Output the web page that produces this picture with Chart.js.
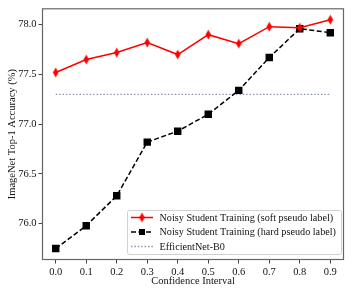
<!DOCTYPE html>
<html>
<head>
<meta charset="utf-8">
<script src="https://cdn.jsdelivr.net/npm/chart.js@4/dist/chart.umd.min.js"></script>
<style>
html,body{margin:0;padding:0;background:#fff;}
#wrap{width:353px;height:294px;}
</style>
</head>
<body>
<div id="wrap"><canvas id="c" width="353" height="294"></canvas></div>
<script>
const confidence = [0.0, 0.1, 0.2, 0.3, 0.4, 0.5, 0.6, 0.7, 0.8, 0.9];
const softLabel = [77.52, 77.65, 77.72, 77.82, 77.70, 77.90, 77.81, 77.98, 77.97, 78.05];
const hardLabel = [75.75, 75.98, 76.28, 76.82, 76.93, 77.10, 77.34, 77.67, 77.96, 77.92];
const baselineValue = 77.30;
const xTicks = [0.0, 0.1, 0.2, 0.3, 0.4, 0.5, 0.6, 0.7, 0.8, 0.9];
const yTicks = [76.0, 76.5, 77.0, 77.5, 78.0];
const seriesNames = ['Noisy Student Training (soft pseudo label)', 'Noisy Student Training (hard pseudo label)', 'EfficientNet-B0'];

const FONT = '"Liberation Serif", "DejaVu Serif", serif';

function thinDiamond(){
  const c = document.createElement('canvas');
  c.width = 7; c.height = 11;
  const g = c.getContext('2d');
  g.fillStyle = '#ff0000';
  g.beginPath();
  g.moveTo(3.5, 0.5); g.lineTo(6.3, 5.5); g.lineTo(3.5, 10.5); g.lineTo(0.7, 5.5); g.closePath();
  g.fill();
  return c;
}
const diamondImg = thinDiamond();

const xMin = -0.045, xMax = 0.945;
const yMin = 75.635, yMax = 78.165;

const framePlugin = {
  id: 'frame',
  afterDraw(chart){
    const {ctx, chartArea:a} = chart;
    ctx.save();
    ctx.strokeStyle = '#666';
    ctx.lineWidth = 1.2;
    ctx.strokeRect(a.left + 0.5, a.top + 0.5, a.right - a.left - 1, a.bottom - a.top - 1);
    ctx.restore();
  }
};

const legendPlugin = {
  id: 'customLegend',
  afterDraw(chart){
    const {ctx, chartArea:a} = chart;
    const boxL = 127, boxT = 210, boxR = a.right - 3, boxB = 254;
    ctx.save();
    ctx.fillStyle = 'rgba(255,255,255,0.85)';
    ctx.strokeStyle = '#d0d0d0';
    ctx.lineWidth = 1;
    ctx.beginPath();
    ctx.roundRect(boxL + 0.5, boxT + 0.5, boxR - boxL, boxB - boxT, 2);
    ctx.fill(); ctx.stroke();
    const rows = [217.5, 232, 246.5];
    const x0 = 131, x1 = 153, xm = 142;
    ctx.font = '10.2px ' + FONT;
    ctx.textBaseline = 'middle';
    chart.data.datasets.forEach((ds, i) => {
      const y = rows[i];
      ctx.save();
      ctx.strokeStyle = ds.borderColor;
      ctx.lineWidth = ds.borderWidth;
      ctx.setLineDash(ds.borderDash || []);
      ctx.beginPath(); ctx.moveTo(x0, y); ctx.lineTo(x1, y); ctx.stroke();
      ctx.restore();
      if (i === 0) {
        ctx.drawImage(diamondImg, xm - 3.5, y - 5.5);
      } else if (i === 1) {
        ctx.fillStyle = '#000';
        ctx.fillRect(xm - 3, y - 3, 6, 6);
      }
      ctx.fillStyle = '#111';
      ctx.fillText(ds.label, 159.5, y + 0.5);
    });
    ctx.restore();
  }
};

new Chart(document.getElementById('c'), {
  type: 'line',
  data: {
    datasets: [
      {
        label: seriesNames[0],
        data: confidence.map((x, i) => ({x, y: softLabel[i]})),
        borderColor: '#ff0000',
        backgroundColor: '#ff0000',
        borderWidth: 1.5,
        pointStyle: diamondImg,
        pointRadius: 5,
        tension: 0
      },
      {
        label: seriesNames[1],
        data: confidence.map((x, i) => ({x, y: hardLabel[i]})),
        borderColor: '#000000',
        backgroundColor: '#000000',
        borderWidth: 1.5,
        borderDash: [5, 2.5],
        pointStyle: 'rect',
        pointRadius: 4.2,
        tension: 0
      },
      {
        label: seriesNames[2],
        data: [{x: confidence[0], y: baselineValue}, {x: confidence[confidence.length - 1], y: baselineValue}],
        borderColor: '#8d96ae',
        borderWidth: 1.4,
        borderDash: [1.5, 1.9],
        pointRadius: 0,
        tension: 0
      }
    ]
  },
  options: {
    responsive: false,
    animation: false,
    devicePixelRatio: 1,
    layout: {padding: {top: 8, right: 9, left: 6, bottom: 6}},
    plugins: {legend: {display: false}, tooltip: {enabled: false}},
    scales: {
      x: {
        type: 'linear',
        min: xMin, max: xMax,
        afterBuildTicks(axis){ axis.ticks = xTicks.map(v => ({value: v})); },
        afterFit(axis){ axis.height = 28; },
        ticks: {
          callback: v => v.toFixed(1),
          color: '#111',
          font: {family: FONT, size: 10.5},
          padding: 2,
          maxRotation: 0, autoSkip: false
        },
        grid: {drawOnChartArea: false, drawTicks: true, tickLength: 3.5, color: '#444'},
        border: {display: false},
        title: {display: true, text: 'Confidence Interval', color: '#111', font: {family: FONT, size: 10.5}, padding: {top: 0, bottom: 0}}
      },
      y: {
        type: 'linear',
        min: yMin, max: yMax,
        afterBuildTicks(axis){ axis.ticks = yTicks.map(v => ({value: v})); },
        afterFit(axis){ axis.width = 36; },
        ticks: {
          callback: v => v.toFixed(1),
          color: '#111',
          font: {family: FONT, size: 10.5},
          padding: 2
        },
        grid: {drawOnChartArea: false, drawTicks: true, tickLength: 3.5, color: '#444'},
        border: {display: false},
        title: {display: true, text: 'ImageNet Top-1 Accuracy (%)', color: '#111', font: {family: FONT, size: 10.5}, padding: {top: 0, bottom: 0}}
      }
    }
  },
  plugins: [framePlugin, legendPlugin]
});
</script>
</body>
</html>
